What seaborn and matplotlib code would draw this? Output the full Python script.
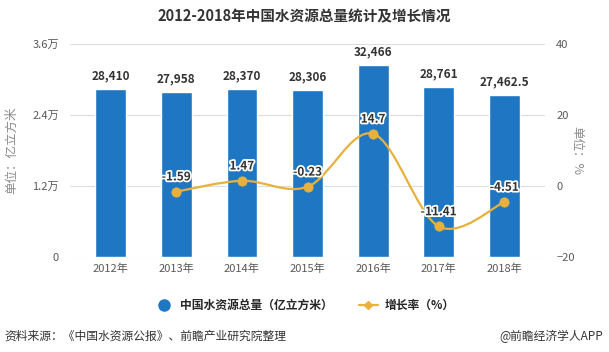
import numpy as np
import pandas as pd
import matplotlib
matplotlib.use("Agg")
import matplotlib.pyplot as plt
import matplotlib.patheffects as pe
from matplotlib.path import Path
from matplotlib.patches import PathPatch
from matplotlib.lines import Line2D
import seaborn as sns

# Datos
years = ["2012年", "2013年", "2014年", "2015年", "2016年", "2017年", "2018年"]
total = [28410, 27958, 28370, 28306, 32466, 28761, 27462.5]
total_labels = ["28,410", "27,958", "28,370", "28,306", "32,466", "28,761", "27,462.5"]
growth = [np.nan, -1.59, 1.47, -0.23, 14.7, -11.41, -4.51]
left_ticks = [0, 12000, 24000, 36000]
left_ticklabels = ["0", "1.2万", "2.4万", "3.6万"]
right_ticks = [-20, 0, 20, 40]

BLUE = "#1f77c4"
GOLD = "#e8b03c"
GREY = "#595959"

sns.set_theme(style="white")
plt.rcParams["font.family"] = ["Noto Sans CJK SC", "DejaVu Sans"]

df = pd.DataFrame({"year": years, "total": total, "growth": growth})

fig = plt.figure(figsize=(6.09, 3.52), dpi=100)
ax = fig.add_axes([0.115, 0.27, 0.78, 0.605])

sns.barplot(data=df, x="year", y="total", color=BLUE, width=0.47, saturation=1, ax=ax)
ax.set_ylim(0, 36000)
ax.set_xlim(-0.62, 6.62)
ax.set_yticks(left_ticks)
ax.set_yticklabels(left_ticklabels)
ax.set_xlabel("")
ax.set_ylabel("单位：亿立方米", color="#8c8c8c", fontsize=9, labelpad=10)
ax.yaxis.grid(True, color="#dddddd", linewidth=0.8)
ax.set_axisbelow(True)
for s in ax.spines.values():
    s.set_visible(False)
ax.tick_params(axis="both", colors=GREY, labelsize=8, length=0, pad=8)
ax.tick_params(axis="x", pad=5)

for i, (v, lab) in enumerate(zip(total, total_labels)):
    ax.text(i, v + 1100, lab, ha="center", va="bottom", fontsize=8.5,
            fontweight="bold", color="#333333")

# Eje derecho: tasa de crecimiento
ax2 = ax.twinx()
ax2.set_ylim(-20, 40)
ax2.set_yticks(right_ticks)
for s in ax2.spines.values():
    s.set_visible(False)
ax2.tick_params(axis="y", colors=GREY, labelsize=8, length=0, pad=8)
ax2.set_ylabel("单位：%", color="#8c8c8c", fontsize=9, rotation=-90, labelpad=6)

gx = np.arange(1, len(years))
gy = np.array(growth[1:])

# curva suave (Catmull-Rom -> Bezier)
pts = np.column_stack([gx, gy])
verts = [tuple(pts[0])]
codes = [Path.MOVETO]
for k in range(len(pts) - 1):
    p0 = pts[k - 1] if k > 0 else pts[k]
    p1 = pts[k]
    p2 = pts[k + 1]
    p3 = pts[k + 2] if k + 2 < len(pts) else pts[k + 1]
    c1 = p1 + (p2 - p0) / 6
    c2 = p2 - (p3 - p1) / 6
    verts += [tuple(c1), tuple(c2), tuple(p2)]
    codes += [Path.CURVE4] * 3
ax2.add_patch(PathPatch(Path(verts, codes), facecolor="none", edgecolor=GOLD, lw=1.6, zorder=3))
sns.scatterplot(x=gx, y=gy, color=GOLD, s=45, edgecolor=GOLD, zorder=4, ax=ax2, legend=False)

for x, y in zip(gx, gy):
    ax2.text(x, y + 2.3, f"{y:g}", ha="center", va="bottom", fontsize=8.5,
             fontweight="bold", color="#333333", zorder=5,
             path_effects=[pe.withStroke(linewidth=2.5, foreground="white")])

# Título
fig.text(0.5, 0.955, "2012-2018年中国水资源总量统计及增长情况", ha="center", va="center",
         fontsize=10.5, fontweight="bold", color="#333333")

# Leyenda
handles = [
    Line2D([], [], marker="o", color="none", markerfacecolor=BLUE, markeredgecolor=BLUE, markersize=8),
    Line2D([], [], marker="D", color=GOLD, markerfacecolor=GOLD, markeredgecolor=GOLD, markersize=4, lw=1.6),
]
fig.legend(handles, ["中国水资源总量（亿立方米）", "增长率（%）"], loc="center",
           bbox_to_anchor=(0.5, 0.133), ncol=2, frameon=False,
           handlelength=1.6, columnspacing=2.2, handletextpad=0.6,
           prop={"weight": "bold", "size": 8.5})

fig.text(0.008, 0.045, "资料来源：《中国水资源公报》、前瞻产业研究院整理", ha="left", va="center",
         fontsize=8.5, color="#333333")
fig.text(0.99, 0.045, "@前瞻经济学人APP", ha="right", va="center",
         fontsize=8.5, color="#333333")

fig.savefig("out.png", dpi=100, facecolor="white")
